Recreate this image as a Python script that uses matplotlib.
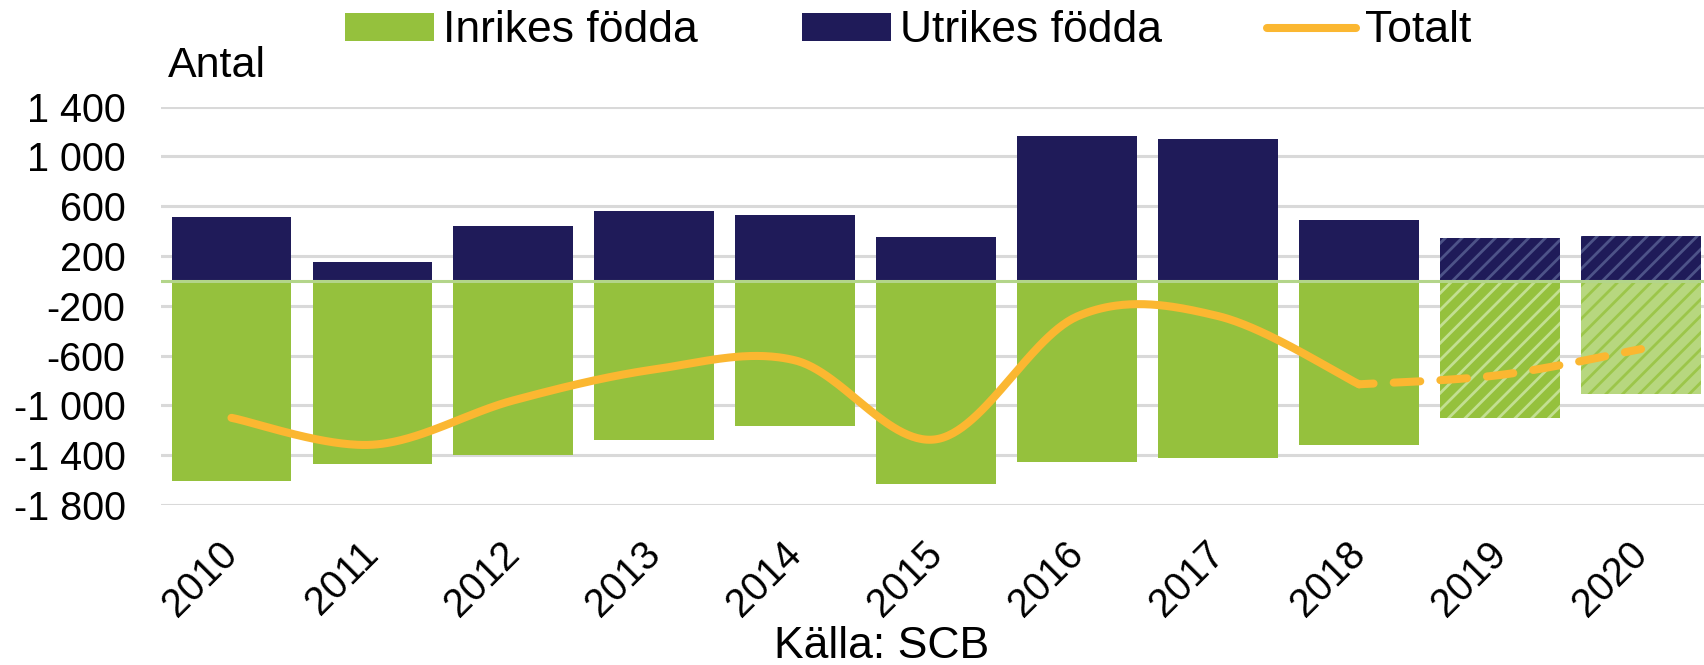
import numpy as np
import matplotlib
matplotlib.use("Agg")
import matplotlib.pyplot as plt
from matplotlib.patches import Patch
from matplotlib.lines import Line2D
from matplotlib.ticker import FuncFormatter

plt.rcParams['font.family'] = ['Liberation Sans', 'DejaVu Sans']
plt.rcParams['axes.unicode_minus'] = False
plt.rcParams['hatch.linewidth'] = 2.0

# ---- data ----
years = ['2010', '2011', '2012', '2013', '2014', '2015', '2016', '2017', '2018', '2019', '2020']
inrikes = [-1610, -1471, -1401, -1275, -1168, -1628, -1453, -1425, -1318, -1104, -909]
utrikes = [511, 155, 441, 564, 529, 356, 1167, 1142, 487, 348, 361]
totalt = [-1100, -1316, -960, -711, -639, -1272, -286, -283, -831, -756, -548]
prognos = [False, False, False, False, False, False, False, False, False, True, True]
yticks = [-1800, -1400, -1000, -600, -200, 200, 600, 1000, 1400]

GREEN = '#95C13D'
NAVY = '#1F1B59'
YELLOW = '#FBB731'

W, H = 1704, 665
fig = plt.figure(figsize=(W / 100, H / 100), dpi=100)
left, right, top, bottom = 161, 1704, 106.5, 505
ax = fig.add_axes([left / W, 1 - bottom / H, (right - left) / W, (bottom - top) / H])

x = np.arange(len(years))
inr = np.array(inrikes, float)
utr = np.array(utrikes, float)
prog = np.array(prognos)
bw = 0.85

# actual bars
ax.bar(x[~prog], inr[~prog], width=bw, color=GREEN, linewidth=0, zorder=2)
ax.bar(x[~prog], utr[~prog], width=bw, color=NAVY, linewidth=0, zorder=2)
# forecast bars (hatched)
px = x[prog]
ax.bar(px[:1], inr[prog][:1], width=bw, facecolor=GREEN, edgecolor='#C3DF91',
       hatch='//', linewidth=0, zorder=2)
ax.bar(px[1:], inr[prog][1:], width=bw, facecolor='#B7D77F', edgecolor='#9CC64A',
       hatch='//', linewidth=0, zorder=2)
ax.bar(px, utr[prog], width=bw, facecolor=NAVY, edgecolor='#4D5388',
       hatch='//', linewidth=0, zorder=2)

ax.axhline(0, color='#B3D58A', lw=2.2, zorder=3)


def smooth(xs, ys, n=60):
    xs = np.asarray(xs, float)
    ys = np.asarray(ys, float)
    P = np.column_stack([xs, ys])
    Pp = np.vstack([P[0], P, P[-1]])
    out = []
    t = np.linspace(0, 1, n)[:, None]
    for i in range(len(P) - 1):
        p0, p1, p2, p3 = Pp[i], Pp[i + 1], Pp[i + 2], Pp[i + 3]
        c1 = p1 + (p2 - p0) / 6.0
        c2 = p2 - (p3 - p1) / 6.0
        seg = ((1 - t) ** 3) * p1 + 3 * ((1 - t) ** 2) * t * c1 + 3 * (1 - t) * t ** 2 * c2 + t ** 3 * p2
        out.append(seg if i == 0 else seg[1:])
    S = np.vstack(out)
    return S[:, 0], S[:, 1]


n_act = int((~prog).sum())
sx, sy = smooth(x[:n_act], totalt[:n_act])
ax.plot(sx, sy, color=YELLOW, lw=5.8, solid_capstyle='round', zorder=4)
dx, dy = smooth(x[n_act - 1:], totalt[n_act - 1:])
ax.plot(dx, dy, color=YELLOW, lw=5.8, linestyle=(1.5, (3.3, 2.5)),
        dash_capstyle='round', zorder=4)

ax.set_xlim(-0.5, (1704 - 231) / 141)
ax.set_ylim(-1800, 1400)
ax.set_yticks(yticks)
ax.yaxis.set_major_formatter(FuncFormatter(lambda v, p: f"{int(round(v)):,}".replace(',', ' ')))
ax.yaxis.grid(True, color='#D9D9D9', lw=2.2)
ax.set_axisbelow(True)
for s in ax.spines.values():
    s.set_visible(False)
ax.tick_params(axis='y', length=0, pad=25.5, labelsize=28.5)
ax.tick_params(axis='x', length=0, pad=31, labelsize=28.5)
ax.set_xticks(x)
ax.set_xticklabels(years, rotation=45, ha='right', va='center', rotation_mode='anchor')

handles = [Patch(facecolor=GREEN, linewidth=0),
           Patch(facecolor=NAVY, linewidth=0),
           Line2D([], [], color=YELLOW, lw=5.8, solid_capstyle='round')]
fig.legend(handles, ['Inrikes födda', 'Utrikes födda', 'Totalt'], ncol=3, loc='center',
           bbox_to_anchor=(908 / W, 1 - 31 / H), frameon=False, fontsize=32,
           handlelength=2.0, handletextpad=0.2, columnspacing=2.36, handleheight=0.6,
           borderpad=0, borderaxespad=0)

fig.text(168 / W, 1 - 77 / H, 'Antal', ha='left', va='baseline', fontsize=31)
fig.text(882 / W, 1 - 658 / H, 'Källa: SCB', ha='center', va='baseline', fontsize=32)

fig.savefig('out.png', dpi=100)
